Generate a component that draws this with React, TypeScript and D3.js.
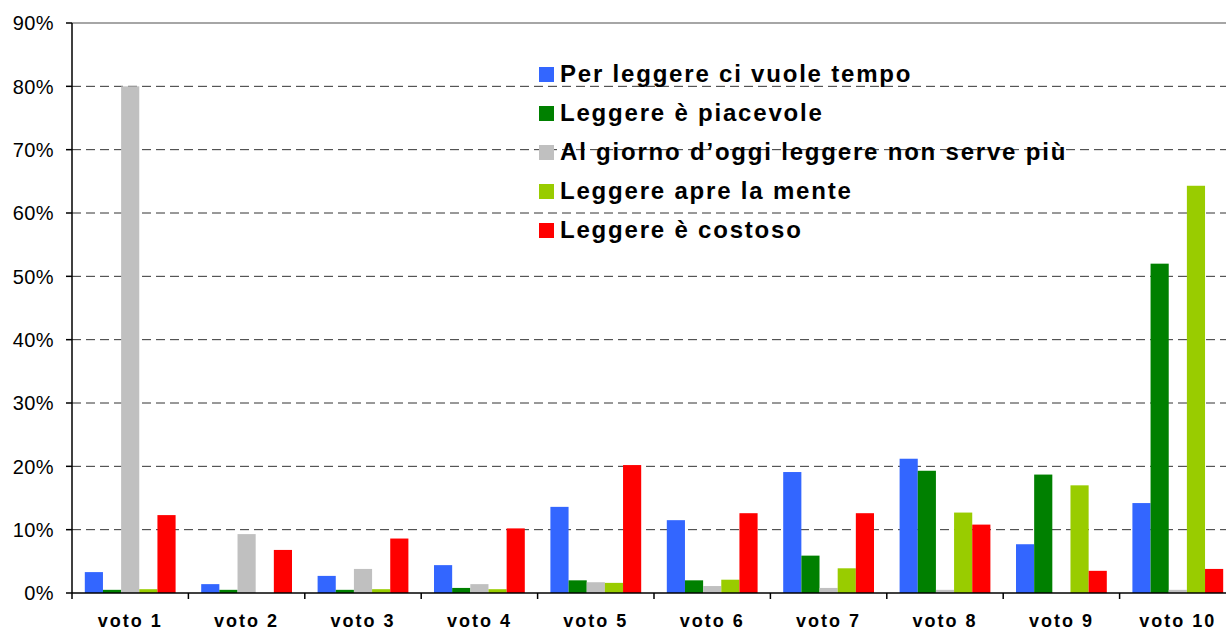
import React from "react";
import * as d3 from "d3";

const categories = ["voto 1", "voto 2", "voto 3", "voto 4", "voto 5", "voto 6", "voto 7", "voto 8", "voto 9", "voto 10"];
const seriesNames = [
  "Per leggere ci vuole tempo",
  "Leggere è piacevole",
  "Al giorno d’oggi leggere non serve più",
  "Leggere apre la mente",
  "Leggere è costoso",
];
const seriesColors = ["#3366FF", "#008000", "#C0C0C0", "#99CC00", "#FF0000"];
const tempo = [3.3, 1.4, 2.7, 4.4, 13.6, 11.5, 19.1, 21.2, 7.7, 14.2];
const piacevole = [0.5, 0.5, 0.5, 0.8, 2.0, 2.0, 5.9, 19.3, 18.7, 52.0];
const nonServe = [80.0, 9.3, 3.8, 1.4, 1.7, 1.1, 0.8, 0.5, 0, 0.5];
const apreMente = [0.6, 0, 0.6, 0.6, 1.6, 2.1, 3.9, 12.7, 17.0, 64.3];
const costoso = [12.3, 6.8, 8.6, 10.2, 20.2, 12.6, 12.6, 10.8, 3.5, 3.8];
const seriesValues = [tempo, piacevole, nonServe, apreMente, costoso];
const yTicks = [0, 10, 20, 30, 40, 50, 60, 70, 80, 90];

const W = 1226;
const H = 632;
const left = 72;
const right = 1236;
const top = 23;
const bottom = 593;

export default function App() {
  const x = d3.scaleBand<string>().domain(categories).range([left, right]).paddingInner(0.22).paddingOuter(0.11);
  const xGroup = d3.scaleBand<string>().domain(categories).range([left, right]);
  const xs = d3.scaleBand<number>().domain(d3.range(seriesNames.length)).range([0, x.bandwidth()]);
  const y = d3.scaleLinear().domain([0, 90]).range([bottom, top]);
  const font = "'Liberation Sans', Arial, sans-serif";

  return (
    <svg width={W} height={H} style={{ position: "fixed", left: 0, top: 0 }} fontFamily={font}>
      <rect x={0} y={0} width={W} height={H} fill="#fff" />
      {yTicks.map((t) =>
        t > 0 && t < 90 ? (
          <line key={"g" + t} x1={left} x2={W} y1={y(t)} y2={y(t)} stroke="#333" strokeWidth={1} strokeDasharray="9,5" />
        ) : null
      )}
      <line x1={left} x2={W} y1={y(90)} y2={y(90)} stroke="#888" strokeWidth={1.5} />
      {seriesValues.map((vals, si) =>
        vals.map((v, ci) =>
          v > 0 ? (
            <rect
              key={si + "-" + ci}
              x={(x(categories[ci]) as number) + (xs(si) as number)}
              y={y(v)}
              width={xs.bandwidth()}
              height={bottom - y(v)}
              fill={seriesColors[si]}
            />
          ) : null
        )
      )}
      <line x1={left} x2={left} y1={top} y2={bottom} stroke="#000" strokeWidth={1.5} />
      <line x1={left} x2={W} y1={bottom} y2={bottom} stroke="#000" strokeWidth={1.5} />
      {yTicks.map((t) => (
        <g key={"t" + t}>
          <line x1={left - 6} x2={left} y1={y(t)} y2={y(t)} stroke="#000" strokeWidth={1.5} />
          <text x={54} y={y(t)} dy="0.36em" textAnchor="end" fontSize={20} letterSpacing={0.4} fill="#000">
            {t + "%"}
          </text>
        </g>
      ))}
      {categories.map((c) => (
        <line key={"ct" + c} x1={xGroup(c) as number} x2={xGroup(c) as number} y1={bottom} y2={bottom + 6} stroke="#000" strokeWidth={1.5} />
      ))}
      {categories.map((c) => (
        <text key={"cl" + c} x={(xGroup(c) as number) + xGroup.bandwidth() / 2} y={627} textAnchor="middle" fontSize={18} letterSpacing={2} fontWeight="bold" fill="#000">
          {c}
        </text>
      ))}
      {seriesNames.map((n, i) => (
        <g key={"l" + i} transform={`translate(539, ${74 + i * 39})`}>
          <rect x={0} y={-7} width={15} height={15} fill={seriesColors[i]} />
          <text x={21} y={0} dy="0.35em" fontSize={24} letterSpacing={1.8} fontWeight="bold" fill="#000">
            {n}
          </text>
        </g>
      ))}
    </svg>
  );
}
